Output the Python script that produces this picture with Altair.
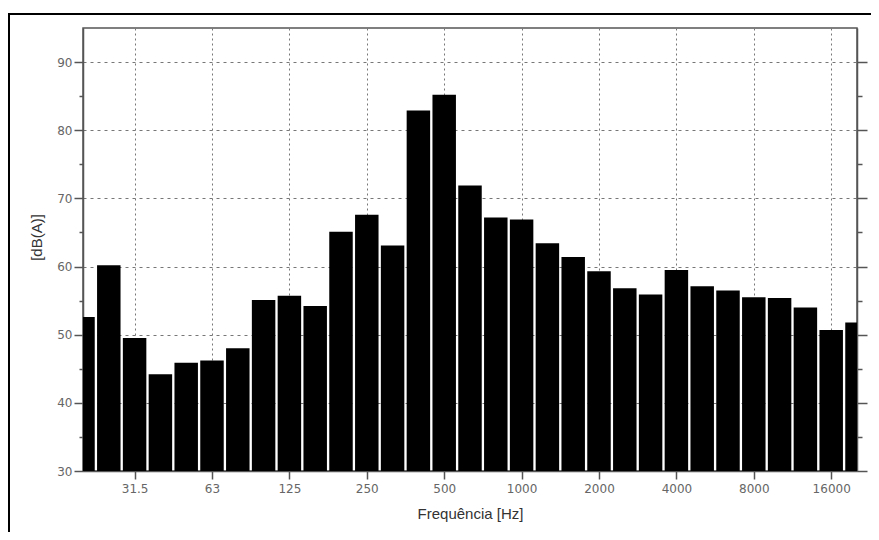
import json
import altair as alt
import pandas as pd

bands = ["20", "25", "31.5", "40", "50", "63", "80", "100", "125", "160", "200",
         "250", "315", "400", "500", "630", "800", "1000", "1250", "1600", "2000",
         "2500", "3150", "4000", "5000", "6300", "8000", "10000", "12500", "16000", "20000"]
levels = [52.6, 60.2, 49.5, 44.2, 45.9, 46.2, 48.0, 55.1, 55.7, 54.2, 65.1,
          67.6, 63.1, 82.9, 85.2, 71.9, 67.2, 66.9, 63.4, 61.4, 59.3,
          56.8, 55.9, 59.5, 57.1, 56.5, 55.5, 55.4, 54.0, 50.7, 51.8]
tick_labels = ["31.5", "63", "125", "250", "500", "1000", "2000", "4000", "8000", "16000"]

df = pd.DataFrame({
    "band": bands,
    "idx": list(range(len(bands))),
    "level": levels,
})
df["x0"] = df["idx"] - 0.455
df["x1"] = df["idx"] + 0.455
df["base"] = 30

tick_vals = [bands.index(t) for t in tick_labels]
label_expr = f"{json.dumps(tick_labels)}[indexof({json.dumps(tick_vals)}, datum.value)]"

W, H = 774, 443
FONT = "Liberation Sans"
LFONT = "DejaVu Sans"

xscale = alt.Scale(domain=[0, 30], nice=False, zero=False)
yscale = alt.Scale(domain=[30, 95], nice=False, zero=False)

x_axis = alt.Axis(
    values=tick_vals, labelExpr=label_expr, title="Frequência [Hz]",
    grid=True, gridDash=[2, 3], gridColor="#777", gridWidth=1,
    tickSize=8, tickColor="#555", tickWidth=1.5, domainColor="#555", domainWidth=1.5,
    labelColor="#666", labelFontSize=12, labelPadding=4, labelFont=LFONT,
    titleFont=FONT, titleFontSize=15, titleFontWeight="normal", titleColor="#333",
    titlePadding=12,
)

minor_vals = list(range(30, 91, 5))
y_axis_left = alt.Axis(
    values=minor_vals,
    labelExpr="datum.value % 10 == 0 ? datum.label : ''",
    title="[dB(A)]",
    grid=True, gridDash=[3, 4], gridColor="#777", gridWidth=1,
    gridOpacity={"condition": {"test": "datum.value % 10 == 0 && datum.value > 30", "value": 1}, "value": 0},
    tickSize={"condition": {"test": "datum.value % 10 == 0", "value": 9}, "value": 4},
    tickColor="#555", tickWidth=1.5, domainColor="#555", domainWidth=1.5,
    labelColor="#666", labelFontSize=12, labelPadding=2, labelFont=LFONT,
    titleFont=FONT, titleFontSize=15, titleFontWeight="normal", titleColor="#333",
    titlePadding=12, titleY=209,
)
y_axis_right = alt.Axis(
    orient="right", values=minor_vals, labels=False, title=None, grid=False,
    tickSize={"condition": {"test": "datum.value % 10 == 0", "value": 10}, "value": 5},
    tickColor="#555", tickWidth=1.5, domainColor="#555", domainWidth=1.5,
)

bars = alt.Chart(df).mark_rect(color="black", clip=True).encode(
    x=alt.X("x0:Q", scale=xscale, axis=x_axis),
    x2="x1:Q",
    y=alt.Y("level:Q", scale=yscale, axis=y_axis_left),
    y2="base:Q",
)

right = alt.Chart(df).mark_rect(opacity=0).encode(
    x=alt.X("x0:Q", scale=xscale),
    y=alt.Y("level:Q", scale=yscale, axis=y_axis_right),
)

frame = alt.Chart(pd.DataFrame({"k": [0]})).mark_rect(
    fill=None, stroke="black", strokeWidth=2, clip=False
).encode(
    x=alt.value(-74), x2=alt.value(W + 60), y=alt.value(-14), y2=alt.value(H + 120)
)

chart = alt.layer(bars, right, frame).resolve_axis(y="independent").properties(
    width=W, height=H,
    autosize=alt.AutoSizeParams(type="none"),
    padding={"left": 75, "top": 20, "right": 14, "bottom": 61},
    background="white",
).configure_view(stroke="#555", strokeWidth=1.5)

chart.save("out.html", embed_options={"renderer": "svg", "actions": False})
